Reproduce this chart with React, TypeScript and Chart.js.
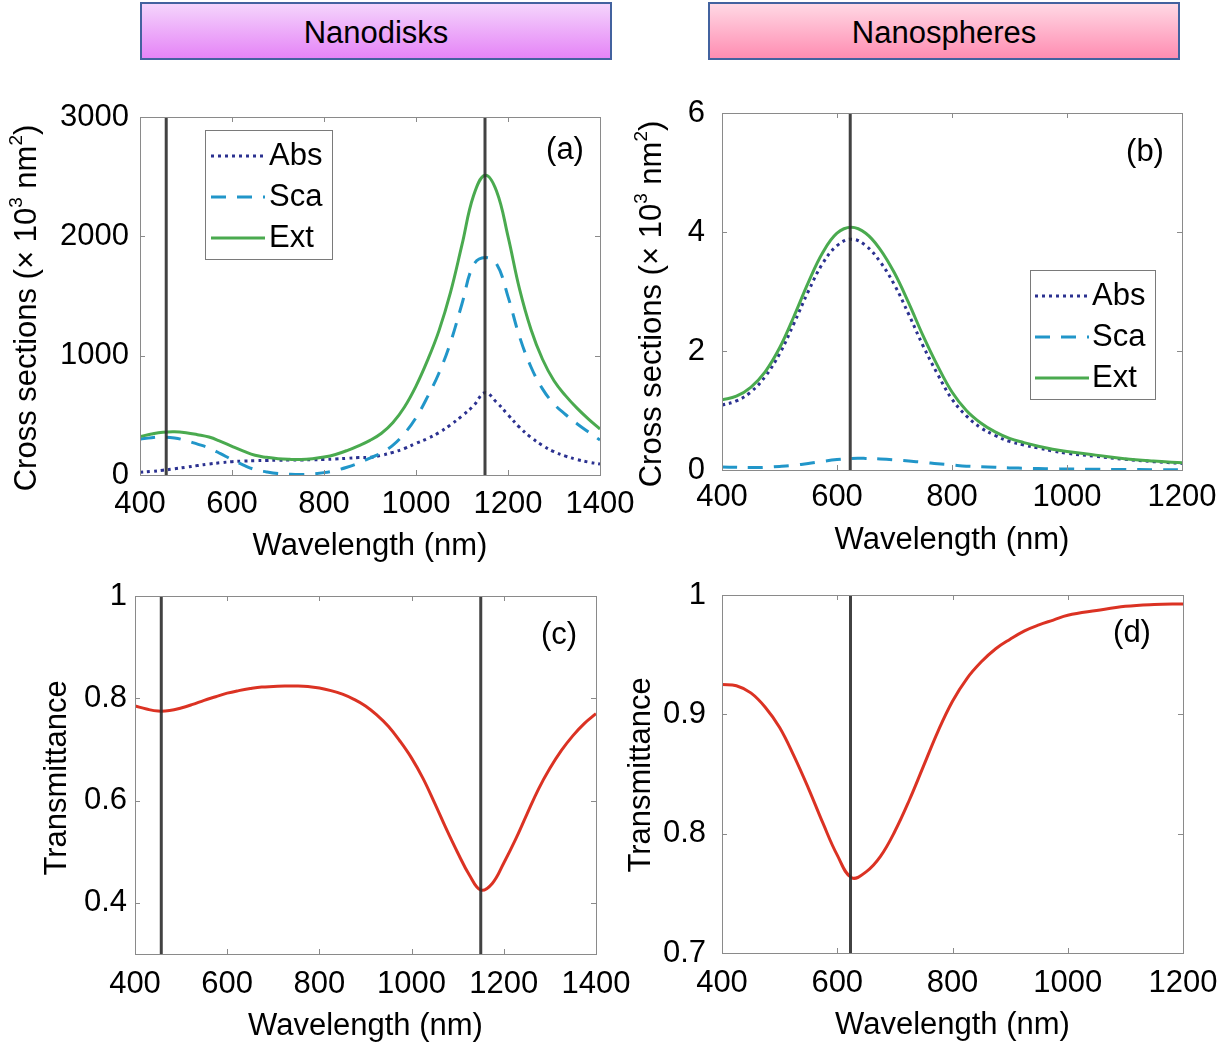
import React, { useEffect, useRef } from 'react';
import { Chart, registerables } from 'chart.js';

Chart.register(...registerables);

const FONT = "'Liberation Sans', Arial, Helvetica, sans-serif";
const FS = 31;

// ---------- Data ----------
// (a) Nanodisks cross sections (x 10^3 nm^2)
const diskWl = [400, 425, 450, 475, 500, 525, 550, 575, 600, 625, 650, 675, 700, 725, 750, 775, 800, 825, 850, 875, 900, 925, 950, 975, 1000, 1025, 1050, 1075, 1100, 1125, 1150, 1175, 1200, 1225, 1250, 1275, 1300, 1325, 1350, 1375, 1400];
const diskAbs = [22, 30, 40, 52, 65, 79, 92, 103, 112, 117, 120, 122, 124, 125, 126, 128, 130, 134, 140, 146, 148, 165, 190, 222, 265, 305, 355, 420, 495, 580, 690, 610, 505, 400, 315, 248, 195, 158, 130, 108, 92];
const diskSca = [300, 313, 318, 310, 289, 259, 226, 179, 128, 83, 45, 26, 12, 6, 4, 9, 20, 38, 65, 99, 142, 185, 250, 348, 480, 655, 855, 1110, 1435, 1760, 1822, 1770, 1495, 1160, 905, 722, 595, 507, 430, 360, 293];
const diskExt = [322, 343, 358, 362, 354, 338, 318, 282, 240, 200, 165, 148, 136, 131, 130, 137, 150, 172, 205, 245, 290, 350, 440, 570, 745, 960, 1210, 1530, 1930, 2340, 2512, 2380, 2000, 1560, 1220, 970, 790, 665, 560, 468, 385];
const diskResonances = [457, 1150];

// (b) Nanospheres cross sections (x 10^3 nm^2)
const sphereWl = [400, 425, 450, 475, 500, 525, 550, 575, 600, 625, 650, 675, 700, 725, 750, 775, 800, 825, 850, 875, 900, 925, 950, 975, 1000, 1050, 1100, 1150, 1200];
const sphereAbs = [1.09, 1.16, 1.31, 1.57, 1.95, 2.46, 3.0, 3.47, 3.77, 3.88, 3.77, 3.5, 3.11, 2.61, 2.08, 1.61, 1.19, 0.91, 0.71, 0.58, 0.48, 0.42, 0.37, 0.32, 0.28, 0.23, 0.18, 0.14, 0.11];
const sphereSca = [0.05, 0.045, 0.04, 0.045, 0.06, 0.08, 0.11, 0.145, 0.175, 0.195, 0.195, 0.185, 0.17, 0.15, 0.13, 0.105, 0.085, 0.065, 0.055, 0.045, 0.035, 0.03, 0.025, 0.02, 0.018, 0.012, 0.008, 0.005, 0.003];
const sphereExt = [1.18, 1.24, 1.39, 1.65, 2.05, 2.58, 3.15, 3.65, 3.98, 4.08, 3.98, 3.71, 3.31, 2.8, 2.25, 1.75, 1.31, 1.0, 0.79, 0.64, 0.53, 0.46, 0.4, 0.35, 0.31, 0.25, 0.19, 0.15, 0.12];
const sphereResonances = [623];

// (c) Nanodisks transmittance
const diskTWl = [400, 425, 450, 475, 500, 525, 550, 575, 600, 625, 650, 675, 700, 725, 750, 775, 800, 825, 850, 875, 900, 925, 950, 975, 1000, 1025, 1050, 1075, 1100, 1125, 1150, 1175, 1200, 1225, 1250, 1275, 1300, 1325, 1350, 1375, 1400];
const diskT = [0.785, 0.779, 0.775, 0.776, 0.781, 0.788, 0.796, 0.803, 0.81, 0.815, 0.819, 0.822, 0.823, 0.824, 0.824, 0.823, 0.82, 0.815, 0.808, 0.798, 0.785, 0.767, 0.745, 0.716, 0.683, 0.643, 0.595, 0.545, 0.498, 0.455, 0.425, 0.438, 0.478, 0.523, 0.573, 0.622, 0.663, 0.698, 0.727, 0.751, 0.77];

// (d) Nanospheres transmittance
const sphereTWl = [400, 425, 450, 475, 500, 525, 550, 575, 600, 625, 650, 675, 700, 725, 750, 775, 800, 825, 850, 875, 900, 925, 950, 975, 1000, 1050, 1100, 1150, 1200];
const sphereT = [0.925, 0.924, 0.918, 0.906, 0.889, 0.865, 0.838, 0.809, 0.782, 0.763, 0.768, 0.781, 0.802, 0.828, 0.857, 0.886, 0.911, 0.93, 0.944, 0.955, 0.963, 0.97, 0.975, 0.979, 0.983, 0.987, 0.9905, 0.992, 0.9925];

// Axis ticks
const diskXTicks = [400, 600, 800, 1000, 1200, 1400];
const sphereXTicks = [400, 600, 800, 1000, 1200];
const crossDiskYTicks = [0, 1000, 2000, 3000];
const crossSphereYTicks = [0, 2, 4, 6];
const transDiskYTicks = [0.4, 0.6, 0.8, 1];
const transSphereYTicks = [0.7, 0.8, 0.9, 1];

const seriesLabels = ['Abs', 'Sca', 'Ext'];

// ---------- Styles ----------
const C_ABS = '#2b3190';
const C_SCA = '#2196c9';
const C_EXT = '#4aaa4f';
const C_T = '#db3223';
const C_VLINE = 'rgba(45,45,45,0.9)';
const C_BOX = '#8a8a8a';

const pts = (xs: number[], ys: number[]) => xs.map((x, i) => ({ x, y: ys[i] }));

const vlines = (xs: number[], y0: number, y1: number) =>
  xs.map((x) => ({
    label: '',
    data: [{ x, y: y0 }, { x, y: y1 }],
    borderColor: C_VLINE,
    borderWidth: 3,
    order: 0,
    tension: 0,
  }));

const crossSets = (xs: number[], abs: number[], sca: number[], ext: number[]) => [
  { label: seriesLabels[0], data: pts(xs, abs), borderColor: C_ABS, borderWidth: 3, borderDash: [3, 4], order: 3, tension: 0.4 },
  { label: seriesLabels[1], data: pts(xs, sca), borderColor: C_SCA, borderWidth: 3, borderDash: [15, 11], order: 2, tension: 0.4 },
  { label: seriesLabels[2], data: pts(xs, ext), borderColor: C_EXT, borderWidth: 3, order: 1, tension: 0.4 },
];

type Seg = { t: string; sup?: boolean };

interface Panel {
  canvas: { left: number; top: number; width: number; height: number };
  area: { left: number; top: number; right: number; bottom: number };
  xMin: number; xMax: number; xTicks: number[];
  yMin: number; yMax: number; yTicks: number[];
  datasets: any[];
  yTitle: Seg[]; yTitlePos: { x: number; y: number };
  xTickPad: number; xTitlePad: number; yTickPad: number;
  tag: string; tagPos: { x: number; y: number };
  legend?: { x: number; y: number; w: number; h: number; rows: number[]; s0: number; s1: number; tx: number };
}

const crossTitle: Seg[] = [{ t: 'Cross sections (× 10' }, { t: '3', sup: true }, { t: ' nm' }, { t: '2', sup: true }, { t: ')' }];
const transTitle: Seg[] = [{ t: 'Transmittance' }];

const panels: Panel[] = [
  {
    canvas: { left: 0, top: 90, width: 650, height: 490 },
    area: { left: 140, top: 117, right: 600, bottom: 475 },
    xMin: 400, xMax: 1400, xTicks: diskXTicks,
    yMin: 0, yMax: 3000, yTicks: crossDiskYTicks,
    datasets: [...vlines(diskResonances, 0, 3000), ...crossSets(diskWl, diskAbs, diskSca, diskExt)],
    yTitle: crossTitle, yTitlePos: { x: 27, y: 308 },
    xTickPad: 11, xTitlePad: 15, yTickPad: 11,
    tag: '(a)', tagPos: { x: 565, y: 150 },
    legend: { x: 205, y: 130, w: 127, h: 129, rows: [156, 197, 238], s0: 211, s1: 265, tx: 269 },
  },
  {
    canvas: { left: 615, top: 85, width: 616, height: 485 },
    area: { left: 722, top: 113, right: 1182, bottom: 470 },
    xMin: 400, xMax: 1200, xTicks: sphereXTicks,
    yMin: 0, yMax: 6, yTicks: crossSphereYTicks,
    datasets: [...vlines(sphereResonances, 0, 6), ...crossSets(sphereWl, sphereAbs, sphereSca, sphereExt)],
    yTitle: crossTitle, yTitlePos: { x: 652, y: 304 },
    xTickPad: 9, xTitlePad: 11, yTickPad: 17,
    tag: '(b)', tagPos: { x: 1145, y: 152 },
    legend: { x: 1030, y: 270, w: 125, h: 129, rows: [296, 337, 378], s0: 1035, s1: 1089, tx: 1092 },
  },
  {
    canvas: { left: 0, top: 575, width: 650, height: 474 },
    area: { left: 135, top: 596, right: 596, bottom: 954 },
    xMin: 400, xMax: 1400, xTicks: diskXTicks,
    yMin: 0.3, yMax: 1, yTicks: transDiskYTicks,
    datasets: [...vlines(diskResonances, 0.3, 1), { label: 'T', data: pts(diskTWl, diskT), borderColor: C_T, borderWidth: 3, order: 1, tension: 0.4 }],
    yTitle: transTitle, yTitlePos: { x: 57, y: 778 },
    xTickPad: 12, xTitlePad: 4, yTickPad: 8,
    tag: '(c)', tagPos: { x: 559, y: 635 },
  },
  {
    canvas: { left: 615, top: 575, width: 616, height: 474 },
    area: { left: 722, top: 595, right: 1183, bottom: 953 },
    xMin: 400, xMax: 1200, xTicks: sphereXTicks,
    yMin: 0.7, yMax: 1, yTicks: transSphereYTicks,
    datasets: [...vlines(sphereResonances, 0.7, 1), { label: 'T', data: pts(sphereTWl, sphereT), borderColor: C_T, borderWidth: 3, order: 1, tension: 0.4 }],
    yTitle: transTitle, yTitlePos: { x: 641, y: 775 },
    xTickPad: 12, xTitlePad: 5, yTickPad: 16,
    tag: '(d)', tagPos: { x: 1132, y: 633 },
  },
];

function drawRich(ctx: CanvasRenderingContext2D, segs: Seg[], cx: number, cy: number) {
  const supSize = Math.round(FS * 0.62);
  ctx.save();
  ctx.translate(cx, cy);
  ctx.rotate(-Math.PI / 2);
  ctx.fillStyle = '#000';
  ctx.textBaseline = 'middle';
  ctx.textAlign = 'left';
  const widths = segs.map((s) => {
    ctx.font = `${s.sup ? supSize : FS}px ${FONT}`;
    return ctx.measureText(s.t).width;
  });
  const total = widths.reduce((a, b) => a + b, 0);
  let x = -total / 2;
  segs.forEach((s, i) => {
    ctx.font = `${s.sup ? supSize : FS}px ${FONT}`;
    ctx.fillText(s.t, x, s.sup ? -FS * 0.33 : 0);
    x += widths[i];
  });
  ctx.restore();
}

const decorPlugin = {
  id: 'decor',
  afterDraw(chart: any, _args: any, opts: any) {
    const p: Panel = opts.panel;
    if (!p) return;
    const ctx: CanvasRenderingContext2D = chart.ctx;
    const ox = p.canvas.left;
    const oy = p.canvas.top;
    const { left, top, right, bottom } = chart.chartArea;
    const xs = chart.scales.x;
    const ys = chart.scales.y;
    ctx.save();
    ctx.strokeStyle = C_BOX;
    ctx.lineWidth = 1;
    ctx.setLineDash([]);
    ctx.strokeRect(Math.round(left) + 0.5, Math.round(top) + 0.5, Math.round(right - left), Math.round(bottom - top));
    const tl = 5;
    ctx.beginPath();
    xs.ticks.forEach((t: any) => {
      const px = Math.round(xs.getPixelForValue(t.value)) + 0.5;
      ctx.moveTo(px, bottom); ctx.lineTo(px, bottom - tl);
      ctx.moveTo(px, top); ctx.lineTo(px, top + tl);
    });
    ys.ticks.forEach((t: any) => {
      const py = Math.round(ys.getPixelForValue(t.value)) + 0.5;
      ctx.moveTo(left, py); ctx.lineTo(left + tl, py);
      ctx.moveTo(right, py); ctx.lineTo(right - tl, py);
    });
    ctx.stroke();
    drawRich(ctx, p.yTitle, p.yTitlePos.x - ox, p.yTitlePos.y - oy);
    ctx.fillStyle = '#000';
    ctx.font = `${FS}px ${FONT}`;
    ctx.textAlign = 'center';
    ctx.textBaseline = 'middle';
    ctx.fillText(p.tag, p.tagPos.x - ox, p.tagPos.y - oy);
    if (p.legend) {
      const L = p.legend;
      ctx.fillStyle = '#fff';
      ctx.fillRect(L.x - ox, L.y - oy, L.w, L.h);
      ctx.strokeStyle = '#7a7a7a';
      ctx.lineWidth = 1;
      ctx.strokeRect(L.x - ox + 0.5, L.y - oy + 0.5, L.w, L.h);
      const items = chart.data.datasets.filter((d: any) => seriesLabels.includes(d.label));
      items.forEach((d: any, i: number) => {
        const y = L.rows[i] - oy;
        ctx.save();
        ctx.strokeStyle = d.borderColor;
        ctx.lineWidth = d.borderWidth;
        ctx.setLineDash(d.borderDash || []);
        ctx.beginPath();
        ctx.moveTo(L.s0 - ox, y);
        ctx.lineTo(L.s1 - ox, y);
        ctx.stroke();
        ctx.restore();
        ctx.fillStyle = '#000';
        ctx.font = `${FS}px ${FONT}`;
        ctx.textAlign = 'left';
        ctx.textBaseline = 'middle';
        ctx.fillText(d.label, L.tx - ox, y);
      });
    }
    ctx.restore();
  },
};

function PanelChart({ p }: { p: Panel }) {
  const ref = useRef<HTMLCanvasElement | null>(null);
  useEffect(() => {
    if (!ref.current) return;
    const padTop = p.area.top - p.canvas.top;
    const padRight = p.canvas.left + p.canvas.width - p.area.right;
    const yAxisW = p.area.left - p.canvas.left;
    const xAxisH = p.canvas.top + p.canvas.height - p.area.bottom;
    const tickFont = { family: FONT, size: FS };
    const chart = new Chart(ref.current, {
      type: 'line',
      data: { datasets: p.datasets.map((d) => ({ ...d, pointRadius: 0, fill: false, borderCapStyle: 'butt' })) },
      options: {
        responsive: false,
        animation: false,
        events: [],
        layout: { padding: { left: 0, top: padTop, right: padRight, bottom: 0 } },
        plugins: {
          legend: { display: false },
          tooltip: { enabled: false },
          decor: { panel: p },
        } as any,
        scales: {
          x: {
            type: 'linear',
            min: p.xMin,
            max: p.xMax,
            afterBuildTicks: (s: any) => { s.ticks = p.xTicks.map((v) => ({ value: v })); },
            afterFit: (s: any) => { s.height = xAxisH; s.paddingLeft = 0; s.paddingRight = 0; },
            grid: { display: false, drawTicks: false },
            border: { display: false },
            ticks: { autoSkip: false, maxRotation: 0, padding: p.xTickPad, color: '#000', font: tickFont, callback: (v: any) => String(v) },
            title: { display: true, text: 'Wavelength (nm)', color: '#000', font: tickFont, padding: { top: 0, bottom: p.xTitlePad } },
          },
          y: {
            type: 'linear',
            min: p.yMin,
            max: p.yMax,
            afterBuildTicks: (s: any) => { s.ticks = p.yTicks.map((v) => ({ value: v })); },
            afterFit: (s: any) => { s.width = yAxisW; s.paddingTop = 0; s.paddingBottom = 0; },
            grid: { display: false, drawTicks: false },
            border: { display: false },
            ticks: { autoSkip: false, padding: p.yTickPad, color: '#000', font: tickFont, callback: (v: any) => String(v) },
          },
        },
      } as any,
      plugins: [decorPlugin as any],
    });
    return () => chart.destroy();
  }, [p]);
  return (
    <canvas
      ref={ref}
      width={p.canvas.width}
      height={p.canvas.height}
      style={{ position: 'absolute', left: p.canvas.left, top: p.canvas.top, width: p.canvas.width, height: p.canvas.height }}
    />
  );
}

const headerBase: React.CSSProperties = {
  position: 'absolute',
  top: 2,
  width: 472,
  height: 58,
  boxSizing: 'border-box',
  border: '2px solid #43629f',
  display: 'flex',
  alignItems: 'center',
  justifyContent: 'center',
  paddingTop: 4,
  fontFamily: FONT,
  fontSize: FS,
  color: '#000',
};

export default function App() {
  return (
    <div style={{ position: 'absolute', left: 0, top: 0, width: 1231, height: 1049, background: '#fff', overflow: 'hidden' }}>
      <div style={{ ...headerBase, left: 140, background: 'linear-gradient(#f4d4fc, #e584f7)' }}>Nanodisks</div>
      <div style={{ ...headerBase, left: 708, background: 'linear-gradient(#ffd8e4, #ff8db2)' }}>Nanospheres</div>
      {panels.map((p, i) => (
        <PanelChart key={i} p={p} />
      ))}
    </div>
  );
}
